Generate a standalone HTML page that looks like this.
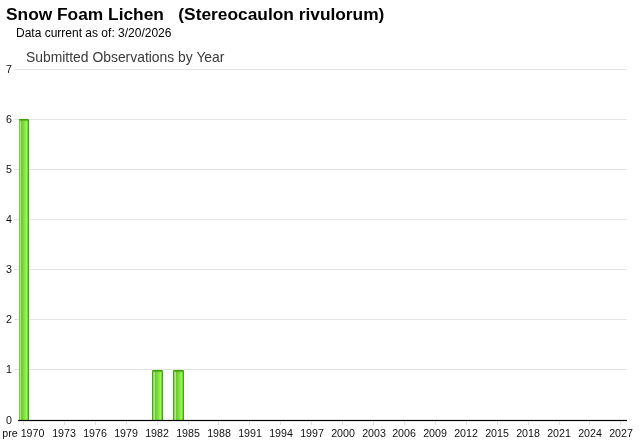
<!DOCTYPE html>
<html><head><meta charset="utf-8">
<style>
html,body{margin:0;padding:0;background:#fff;}
body{width:640px;height:442px;position:relative;overflow:hidden;font-family:"Liberation Sans",sans-serif;color:#000;}
.abs{position:absolute;white-space:pre;line-height:1;}
.abs,.yl,.xl{will-change:transform;}
#title{left:6.3px;top:6px;font-size:17.33px;font-weight:bold;}
#sub{left:16px;top:27px;font-size:12px;}
#ctitle{left:26px;top:51px;font-size:13.9px;color:#3a3a3a;}
.grid{position:absolute;left:14px;width:613px;height:1px;background:#e4e3e4;}
.yl{transform:translate(0.4px,-0.8px);position:absolute;left:0;width:11.5px;text-align:right;font-size:10.67px;line-height:1;color:#111;}
.xl{position:absolute;top:428px;font-size:10.67px;line-height:1;color:#111;white-space:pre;transform:translateX(-50%);}
.tick{position:absolute;top:421px;width:1px;height:4px;background:#dedede;}
#axis{position:absolute;left:18px;top:420px;width:609px;height:1px;background:#000;box-shadow:0 -1px 0 rgba(0,0,0,.1),0 1px 0 rgba(0,0,0,.1);}
.bar{position:absolute;width:11px;overflow:hidden;border-radius:1.5px 1.5px 0 0;
 background:linear-gradient(90deg,#44a80c 0px,#44a80c 1px,#98d674 1px,#98d674 2px,#b4e496 2px,#b4e496 3px,#6ccc2c 3px,#6ccc2c 4px,#74d434 4px,#74d434 5px,#7cdc3c 5px,#7cdc3c 6px,#84e644 6px,#84e644 7px,#8cf04c 7px,#8cf04c 8px,#96fa58 8px,#96fa58 9px,#78d838 9px,#78d838 10px,#40a808 10px,#40a808 11px);}
.bar::before{content:"";position:absolute;left:0;top:0;width:11px;height:3px;background:linear-gradient(180deg,rgba(60,160,8,1) 0,rgba(60,160,8,1) 1px,rgba(60,160,8,.18) 2px,rgba(60,160,8,0) 3px);}
</style></head><body>
<div class="abs" id="title">Snow Foam Lichen   (Stereocaulon rivulorum)</div>
<div class="abs" id="sub">Data current as of: 3/20/2026</div>
<div class="abs" id="ctitle">Submitted Observations by Year</div>
<div class="grid" style="top:69px"></div>
<div class="grid" style="top:119px"></div>
<div class="grid" style="top:169px"></div>
<div class="grid" style="top:219px"></div>
<div class="grid" style="top:269px"></div>
<div class="grid" style="top:319px"></div>
<div class="grid" style="top:369px"></div>
<div class="yl" style="top:65px">7</div>
<div class="yl" style="top:115px">6</div>
<div class="yl" style="top:165px">5</div>
<div class="yl" style="top:215px">4</div>
<div class="yl" style="top:265px">3</div>
<div class="yl" style="top:315px">2</div>
<div class="yl" style="top:365px">1</div>
<div class="yl" style="top:416px">0</div>
<div id="clip1" style="position:absolute;left:19px;top:119px;width:10px;height:301px;overflow:hidden"><div class="bar" id="b1" style="left:-1px;top:0;height:301px"></div><div style="position:absolute;left:0;top:1px;width:1px;height:300px;background:#76c846"></div></div>
<div class="bar" id="b2" style="left:152px;top:370px;height:50px"></div>
<div class="bar" id="b3" style="left:173px;top:370px;height:50px"></div>
<div id="axis"></div>
<div class="tick" style="left:23px"></div>
<div class="xl" style="left:23px;transform:translateX(calc(-50% + 0.35px))">pre 1970</div>
<div class="tick" style="left:64px"></div>
<div class="xl" style="left:64.39px">1973</div>
<div class="tick" style="left:95px"></div>
<div class="xl" style="left:95.30px">1976</div>
<div class="tick" style="left:126px"></div>
<div class="xl" style="left:126.22px">1979</div>
<div class="tick" style="left:157px"></div>
<div class="xl" style="left:157.13px">1982</div>
<div class="tick" style="left:188px"></div>
<div class="xl" style="left:188.05px">1985</div>
<div class="tick" style="left:218px"></div>
<div class="xl" style="left:218.96px">1988</div>
<div class="tick" style="left:249px"></div>
<div class="xl" style="left:249.88px">1991</div>
<div class="tick" style="left:280px"></div>
<div class="xl" style="left:280.80px">1994</div>
<div class="tick" style="left:311px"></div>
<div class="xl" style="left:311.71px">1997</div>
<div class="tick" style="left:342px"></div>
<div class="xl" style="left:342.62px">2000</div>
<div class="tick" style="left:373px"></div>
<div class="xl" style="left:373.54px">2003</div>
<div class="tick" style="left:404px"></div>
<div class="xl" style="left:404.45px">2006</div>
<div class="tick" style="left:435px"></div>
<div class="xl" style="left:435.37px">2009</div>
<div class="tick" style="left:466px"></div>
<div class="xl" style="left:466.29px">2012</div>
<div class="tick" style="left:497px"></div>
<div class="xl" style="left:497.20px">2015</div>
<div class="tick" style="left:528px"></div>
<div class="xl" style="left:528.12px">2018</div>
<div class="tick" style="left:559px"></div>
<div class="xl" style="left:559.03px">2021</div>
<div class="tick" style="left:589px"></div>
<div class="xl" style="left:589.94px">2024</div>
<div class="tick" style="left:620px"></div>
<div class="xl" style="left:620.86px">2027</div>
</body></html>
